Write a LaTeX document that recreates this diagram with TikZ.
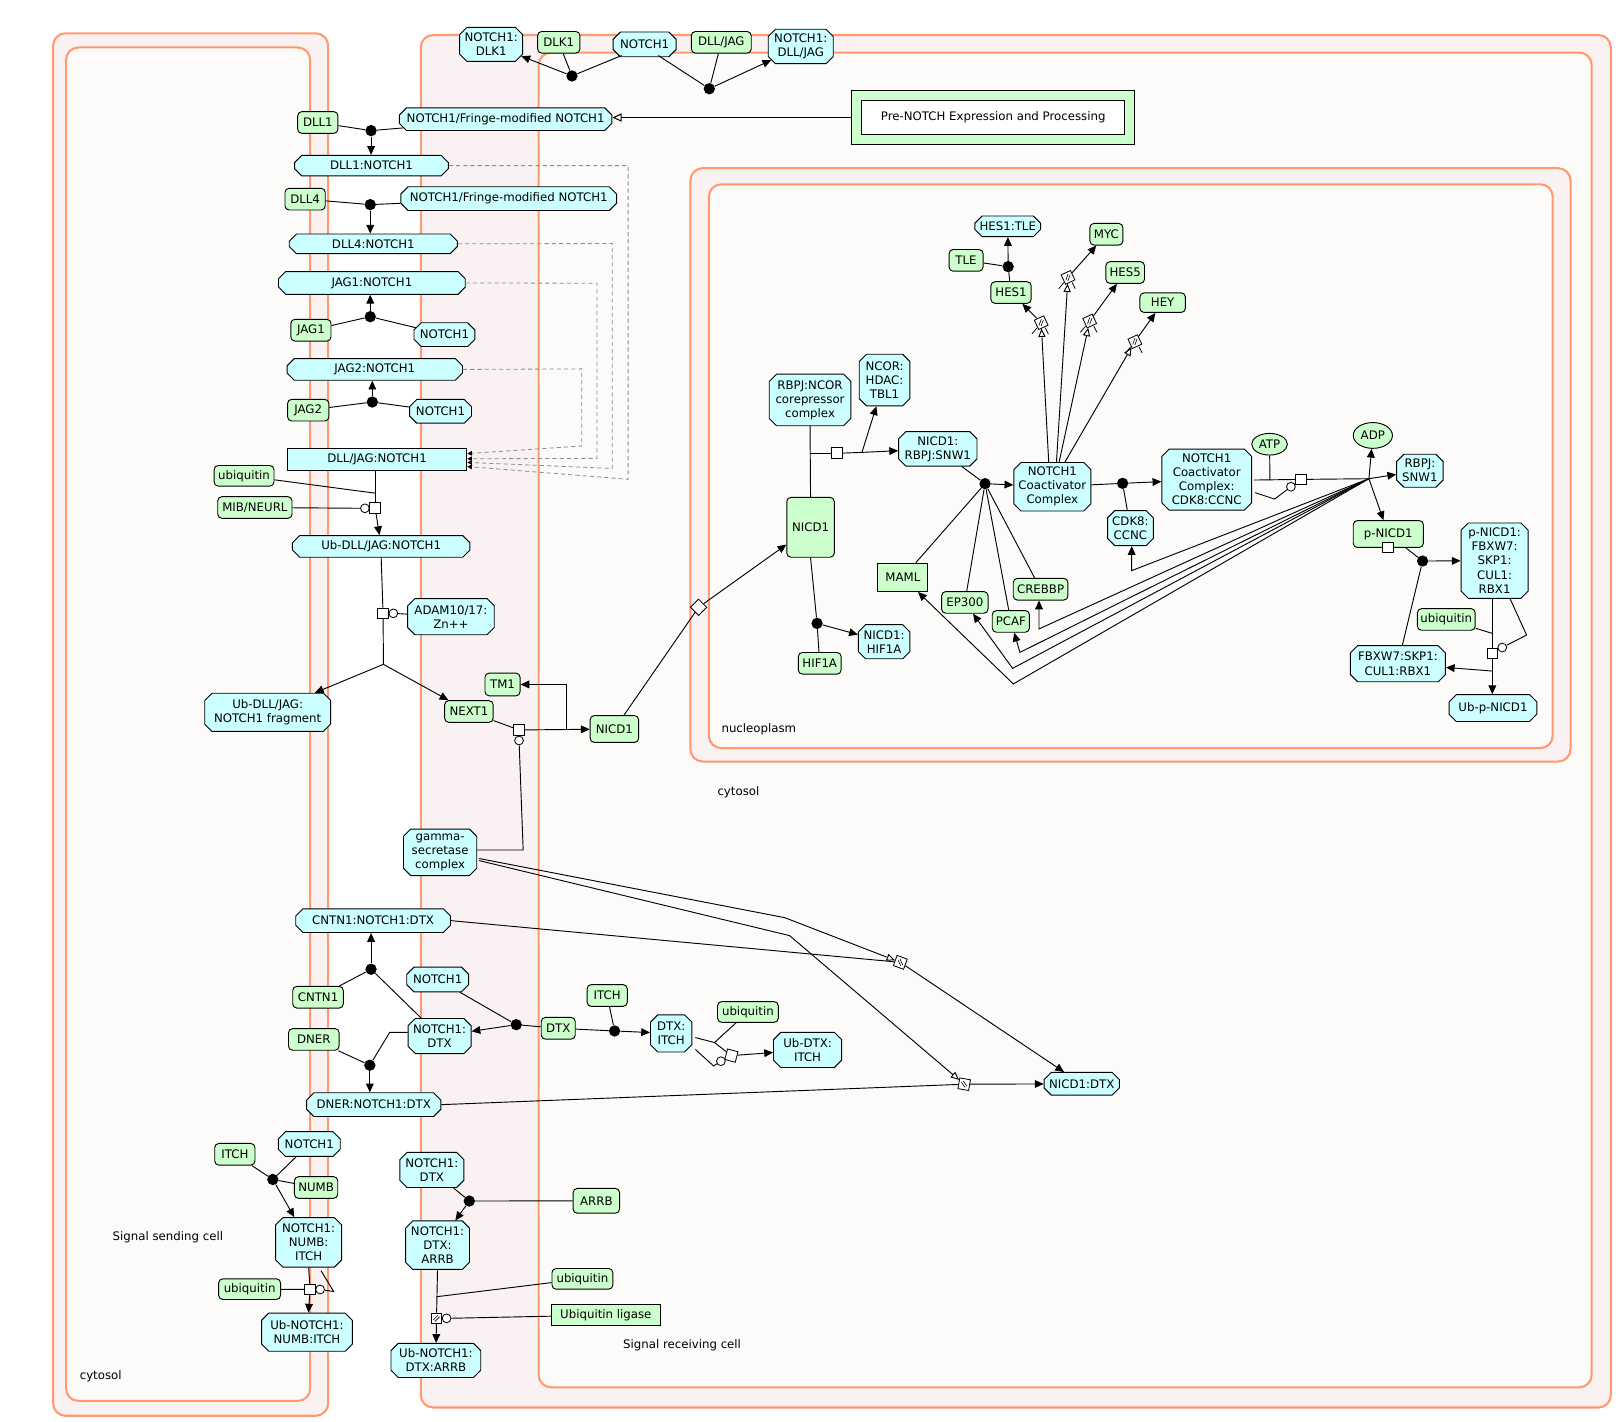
\documentclass[tikz,border=0pt]{standalone}
\usepackage{fontspec}
\setmainfont{DejaVu Sans}
\usetikzlibrary{shapes.misc,shapes.geometric,arrows.meta,calc}
\definecolor{cyanfill}{RGB}{204,255,255}
\definecolor{greenfill}{RGB}{204,255,204}
\definecolor{compline}{RGB}{255,153,110}
\definecolor{bandfill}{RGB}{250,242,242}
\definecolor{innerfill}{RGB}{253,251,250}
\definecolor{dashgray}{RGB}{140,140,140}
\newcommand\dfont{\fontsize{11.4}{13.6}\selectfont}
\begin{document}
\begin{tikzpicture}[x=1pt,y=-1pt,
  every node/.style={font=\dfont},
  base/.style={draw=black,line width=0.9pt,align=center,inner sep=1pt},
  cx/.style={base,chamfered rectangle,chamfered rectangle xsep=3.5pt,chamfered rectangle ysep=3.5pt,fill=cyanfill},
  cxr/.style={base,rectangle,fill=cyanfill},
  pr/.style={base,rectangle,rounded corners=4pt,fill=greenfill},
  prr/.style={base,rectangle,fill=greenfill},
  mol/.style={base,ellipse,fill=greenfill,inner sep=0pt},
  sz/.style 2 args={minimum width=#1pt,minimum height=#2pt},
  dot/.style={circle,fill=black,draw=none,inner sep=0pt,minimum size=11pt},
  tsq/.style={rectangle,draw=black,fill=white,line width=0.8pt,inner sep=0pt,minimum size=10.5pt},
  ocirc/.style={circle,draw=black,fill=white,line width=0.8pt,inner sep=0pt,minimum size=8.5pt},
  ln/.style={line width=0.9pt},
  arr/.style={ln,-{Triangle[length=8.5pt,width=7.5pt]}},
  oarr/.style={ln,-{Triangle[open,length=8pt,width=7pt]}},
  comp/.style={draw=compline,line width=2pt,rounded corners=12pt},
  dsh/.style={draw=dashgray,line width=0.8pt,dash pattern=on 4pt off 3pt,-{Triangle[length=4.5pt,width=4.5pt,color=black]}},
  fwd/.style={path picture={
    \draw[line width=0.6pt] ([xshift=-3pt,yshift=-1.5pt]path picture bounding box.center) -- ([xshift=1.5pt,yshift=3pt]path picture bounding box.center);
    \draw[line width=0.6pt] ([xshift=-1.5pt,yshift=-3pt]path picture bounding box.center) -- ([xshift=3pt,yshift=1.5pt]path picture bounding box.center);}},
  bwd/.style={path picture={
    \draw[line width=0.6pt] ([xshift=-3pt,yshift=1.5pt]path picture bounding box.center) -- ([xshift=1.5pt,yshift=-3pt]path picture bounding box.center);
    \draw[line width=0.6pt] ([xshift=-1.5pt,yshift=3pt]path picture bounding box.center) -- ([xshift=3pt,yshift=-1.5pt]path picture bounding box.center);}},
]
\useasboundingbox[fill=white] (0,0) rectangle (1568,1378);

% ---------------- compartments ----------------
\draw[comp,fill=bandfill] (51.5,32.3) rectangle (318,1372);
\draw[comp,fill=innerfill] (64,46) rectangle (300.6,1357.6);
\draw[comp,fill=bandfill] (407.8,33.9) rectangle (1561,1364);
\draw[comp,fill=innerfill] (522,51) rectangle (1542.5,1344.4);
\draw[comp,fill=bandfill] (669,163) rectangle (1522,738);
\draw[comp,fill=innerfill] (687,178.6) rectangle (1504.7,725);

\node (lblSend) at (162.7,1199) {Signal sending cell};
\node (lblCytS) at (97.6,1334) {cytosol};
\node (lblCytR) at (715.6,767.8) {cytosol};
\node (lblNuc) at (735.4,706.5) {nucleoplasm};
\node (lblRecv) at (661,1304) {Signal receiving cell};

% ---------------- top: DLK1 / DLL-JAG binding ----------------
\node[cx,sz={61}{33}] (nDLK1c) at (476,43) {NOTCH1:\\DLK1};
\node[pr,sz={41}{21}] (nDLK1) at (541.5,41) {DLK1};
\node[cx,sz={61}{24}] (nN1top) at (624.7,43) {NOTCH1};
\node[pr,sz={58}{21}] (nDLLJAG) at (699,41) {DLL/JAG};
\node[cx,sz={63}{33}] (nN1DJ) at (776,45) {NOTCH1:\\DLL/JAG};
\node[dot] (d1) at (554.3,73.6) {};
\node[dot] (d2) at (687.4,86) {};

\node[prr,sz={274}{52}] (pre) at (962.6,113.9) {};
\node[base,fill=white,sz={255}{33}] (preIn) at (962.5,113.7) {Pre-NOTCH Expression and Processing};

% ---------------- ligand binding column ----------------
\node[cx,sz={206}{22}] (nFr1) at (490,115.5) {NOTCH1/Fringe-modified NOTCH1};
\node[pr,sz={39}{21}] (nDLL1) at (308,118.7) {DLL1};
\node[dot] (d3) at (359.6,126.6) {};
\node[cx,sz={149}{20}] (nDLL1N) at (360,160.5) {DLL1:NOTCH1};
\node[pr,sz={39}{21}] (nDLL4) at (295.7,193) {DLL4};
\node[cx,sz={209}{23}] (nFr2) at (493,192.5) {NOTCH1/Fringe-modified NOTCH1};
\node[dot] (d4) at (358.8,198.3) {};
\node[cx,sz={163}{19}] (nDLL4N) at (361.8,236.3) {DLL4:NOTCH1};
\node[cx,sz={181}{22}] (nJAG1N) at (360.4,274.2) {JAG1:NOTCH1};
\node[dot] (d5) at (358.8,306.9) {};
\node[pr,sz={39}{21}] (nJAG1) at (301.3,320) {JAG1};
\node[cx,sz={59}{23}] (nN1j1) at (430.7,324.3) {NOTCH1};
\node[cx,sz={170}{21}] (nJAG2N) at (363.2,358) {JAG2:NOTCH1};
\node[dot] (d6) at (360.8,389.6) {};
\node[pr,sz={40}{21}] (nJAG2) at (298.7,397.5) {JAG2};
\node[cx,sz={60}{23}] (nN1j2) at (426.9,398.6) {NOTCH1};
\node[cxr,sz={174}{21}] (nDJN) at (365.4,445.1) {DLL/JAG:NOTCH1};
\node[pr,sz={58}{20}] (nUbq1) at (236.5,461.1) {ubiquitin};
\node[pr,sz={72}{21}] (nMIB) at (247,491.8) {MIB/NEURL};
\node[tsq] (t1) at (363.6,492.6) {};
\node[ocirc] (c1) at (353.6,492.6) {};
\coordinate (j1) at (364.2,478);
\node[cx,sz={172}{21}] (nUbDJN) at (369.4,529.5) {Ub-DLL/JAG:NOTCH1};
\node[tsq] (t2) at (371.2,594.4) {};
\node[ocirc] (c2) at (381.2,594.4) {};
\node[cx,sz={84}{35}] (nADAM) at (437,597.6) {ADAM10/17:\\Zn++};
\coordinate (j2) at (371.6,643.8);
\node[cx,sz={122}{37}] (nUbFrag) at (259.4,690.3) {Ub-DLL/JAG:\\NOTCH1 fragment};
\node[pr,sz={34}{22}] (nTM1) at (487,663.3) {TM1};
\node[pr,sz={47}{21}] (nNEXT1) at (454.4,689.5) {NEXT1};
\node[pr,sz={47}{26}] (nNICD1c) at (595.4,706.5) {NICD1};
\node[tsq] (t3) at (503,707.4) {};
\node[ocirc] (c3) at (503,717.6) {};
\coordinate (j3) at (548.8,707.2);
\coordinate (j4) at (507,823.7);
\node[cx,sz={71}{45}] (nGamma) at (426.5,826) {gamma-\\secretase\\complex};

% ---------------- DTX / CNTN1 / DNER ----------------
\node[cx,sz={150}{23}] (nCNTN1N) at (361.6,892.2) {CNTN1:NOTCH1:DTX};
\node[dot] (d7) at (359.6,939.3) {};
\node[pr,sz={49}{21}] (nCNTN1) at (308.2,966.4) {CNTN1};
\node[cx,sz={60}{24}] (nN1d) at (424.2,949.2) {NOTCH1};
\node[cx,sz={61}{34}] (nN1DTX) at (426,1004) {NOTCH1:\\DTX};
\node[pr,sz={33}{21}] (nDTX) at (541,996.5) {DTX};
\node[dot] (d8) at (500.3,993) {};
\node[pr,sz={39}{21}] (nITCH1) at (588.4,964.7) {ITCH};
\node[dot] (d9) at (595.6,999.1) {};
\node[cx,sz={40}{36}] (nDTXITCH) at (650.4,1001.5) {DTX:\\ITCH};
\node[pr,sz={59}{20}] (nUbq2) at (724.8,980.7) {ubiquitin};
\node[tsq,rotate=-15] (t4) at (708.8,1023) {};
\node[ocirc] (c4) at (698.6,1028.4) {};
\coordinate (j5) at (692.4,1010.3);
\coordinate (j5b) at (691.5,1033);
\node[cx,sz={66}{34}] (nUbDTX) at (782.6,1017.5) {Ub-DTX:\\ITCH};
\node[pr,sz={49}{21}] (nDNER) at (304.1,1007.3) {DNER};
\node[dot] (d10) at (358.4,1032.3) {};
\coordinate (j6) at (377.7,1000.4);
\node[cx,sz={130}{23}] (nDNERN) at (362.2,1070.5) {DNER:NOTCH1:DTX};
\node[tsq,rotate=-20,bwd] (t5) at (872.5,932.6) {};
\node[tsq,rotate=-10,bwd] (t6) at (934.4,1050.7) {};
\coordinate (b1) at (760.5,889.3);
\coordinate (b2) at (765.2,906.7);
\node[cx,sz={73}{22}] (nNICD1DTX) at (1048.3,1050.3) {NICD1:DTX};

% ---------------- NUMB / ITCH ----------------
\node[cx,sz={60}{24}] (nN1b) at (299.7,1108.7) {NOTCH1};
\node[pr,sz={39}{21}] (nITCH2) at (227.6,1118.6) {ITCH};
\node[dot] (d11) at (264.4,1143) {};
\node[pr,sz={42}{21}] (nNUMB) at (306.3,1150.8) {NUMB};
\node[cx,sz={64}{48}] (nNNI) at (299.1,1204) {NOTCH1:\\NUMB:\\ITCH};
\node[pr,sz={60}{20}] (nUbq3) at (241.9,1249.3) {ubiquitin};
\node[tsq] (t7) at (300.5,1249.6) {};
\node[ocirc] (c7) at (310.2,1249.6) {};
\coordinate (j7) at (323.4,1251.6);
\node[cx,sz={88}{37}] (nUbNNI) at (297.5,1291) {Ub-NOTCH1:\\NUMB:ITCH};

% ---------------- ARRB ----------------
\node[cx,sz={62}{34}] (nN1DTXb) at (418.5,1133.8) {NOTCH1:\\DTX};
\node[dot] (d12) at (454.8,1163.9) {};
\node[pr,sz={45}{24}] (nARRB) at (577.9,1163.7) {ARRB};
\node[cx,sz={62}{47}] (nNDA) at (424,1206.7) {NOTCH1:\\DTX:\\ARRB};
\node[pr,sz={59}{20}] (nUbq4) at (564.4,1239.3) {ubiquitin};
\node[prr,sz={105}{21}] (nUbLig) at (587.1,1274.4) {Ubiquitin ligase};
\node[tsq,fwd] (t8) at (423,1277.6) {};
\node[ocirc] (c8) at (432.8,1277.6) {};
\coordinate (j8) at (423.4,1256.6);
\node[cx,sz={87}{33}] (nUbNDA) at (422.4,1318.4) {Ub-NOTCH1:\\DTX:ARRB};

% ---------------- nucleus ----------------
\node[diamond,draw=black,fill=white,line width=0.8pt,inner sep=0pt,minimum size=16pt] (dia) at (677,588.5) {};
\node[pr,sz={46}{58}] (nNICD1n) at (785.5,511) {NICD1};
\node[cx,sz={79}{50}] (nRBPJNCOR) at (785,387.6) {RBPJ:NCOR\\corepressor\\complex};
\node[cx,sz={49}{50}] (nNCOR) at (857.2,368.3) {NCOR:\\HDAC:\\TBL1};
\coordinate (j9) at (785,439.3);
\node[tsq] (t9) at (811.2,439.3) {};
\coordinate (j9b) at (835.3,438.4);
\node[cx,sz={76}{30}] (nNRS) at (908.8,435) {NICD1:\\RBPJ:SNW1};
\node[dot] (d13) at (791.8,604.1) {};
\node[pr,sz={41.5}{21}] (nHIF1A) at (794.4,642.8) {HIF1A};
\node[cx,sz={50}{33}] (nNH) at (856.8,621.9) {NICD1:\\HIF1A};
\node[dot] (d14) at (954.6,468.7) {};
\node[cx,sz={71}{47}] (nNCC) at (1019.8,471.7) {NOTCH1\\Coactivator\\Complex};
\node[prr,sz={48.5}{27.4}] (nMAML) at (875,559.6) {MAML};
\node[pr,sz={45}{21}] (nEP300) at (935,583.8) {EP300};
\node[pr,sz={36}{21}] (nPCAF) at (979.6,602.2) {PCAF};
\node[pr,sz={53}{21}] (nCREBBP) at (1008.4,571) {CREBBP};
\node[dot] (d15) at (1087.9,468.4) {};
\node[cx,sz={44}{34}] (nCDK8) at (1095.5,511.8) {CDK8:\\CCNC};
\node[cx,sz={87}{59}] (nNCCC) at (1169.4,464.8) {NOTCH1\\Coactivator\\Complex:\\CDK8:CCNC};
\node[mol,sz={34.5}{21}] (nATP) at (1230.3,430.5) {ATP};
\coordinate (j10) at (1230.7,465.2);
\node[tsq] (t10) at (1260.4,464.6) {};
\node[ocirc] (c10) at (1251,471.7) {};
\coordinate (j10b) at (1235.2,483.7);
\coordinate (hub) at (1326.6,463.9);
\node[mol,sz={38}{25}] (nADP) at (1330.4,422) {ADP};
\node[cx,sz={45}{32}] (nRS) at (1376,456.2) {RBPJ:\\SNW1};
\node[pr,sz={68}{26}] (nPN) at (1345.4,517.5) {p-NICD1};
\node[tsq] (t11) at (1345.4,530.5) {};
\node[dot] (d16) at (1378.6,543.7) {};
\node[cx,sz={65}{73}] (nPNF) at (1448.4,543.3) {p-NICD1:\\FBXW7:\\SKP1:\\CUL1:\\RBX1};
\node[pr,sz={56}{21}] (nUbq5) at (1401.6,600.3) {ubiquitin};
\node[tsq] (t12) at (1446.2,633.2) {};
\node[ocirc] (c12) at (1455.8,627.5) {};
\coordinate (j12a) at (1446.2,613.8);
\coordinate (j12b) at (1479.4,615.4);
\coordinate (j12c) at (1446.2,650.3);
\node[cx,sz={92}{35}] (nFSCR) at (1354.7,643.2) {FBXW7:SKP1:\\CUL1:RBX1};
\node[cx,sz={85}{26}] (nUbPN) at (1446.8,686.2) {Ub-p-NICD1};
\coordinate (f1) at (1096.7,553);
\coordinate (f2) at (1006.9,609.5);
\coordinate (f3) at (988.4,632.2);
\coordinate (f4) at (981.3,647.7);
\coordinate (f5) at (982,662.8);

% target genes
\node[cx,sz={61}{20}] (nHES1TLE) at (976.6,219.3) {HES1:TLE};
\node[pr,sz={33}{21}] (nTLE) at (936.2,252.3) {TLE};
\node[dot] (d17) at (977,258.4) {};
\node[pr,sz={39}{21}] (nHES1) at (979.8,283.5) {HES1};
\node[pr,sz={32}{21}] (nMYC) at (1072.2,227) {MYC};
\node[pr,sz={37.5}{21}] (nHES5) at (1090.4,264.1) {HES5};
\node[pr,sz={44}{19}] (nHEY) at (1126.7,293.3) {HEY};
\node[tsq,rotate=25,fwd,minimum size=10pt] (g1) at (1009,312.7) {};
\node[tsq,rotate=25,fwd,minimum size=10pt] (g2) at (1035,268.8) {};
\node[tsq,rotate=25,fwd,minimum size=10pt] (g3) at (1056,311.1) {};
\node[tsq,rotate=25,fwd,minimum size=10pt] (g4) at (1099.8,331.1) {};

% ---------------- connectors ----------------
% DLK1 and DLL/JAG binding at the top
\draw[ln] (nDLK1) -- (d1);
\draw[ln] ($(nN1top.south west)+(5,2)$) -- (d1);
\draw[arr] (d1) -- (nDLK1c);
\draw[ln] ($(nN1top.south east)+(-14,2)$) -- (d2);
\draw[ln] (nDLLJAG) -- (d2);
\draw[arr] (d2) -- (nN1DJ);
\draw[line width=1.8pt,-{Triangle[open,length=9pt,width=8pt,line width=1pt]}] (pre.west) -- (pre.west -| nFr1.east);

% ligand binding
\draw[ln] (nDLL1) -- (d3);
\draw[ln] (nFr1) -- (d3);
\draw[arr] (d3) -- (d3 |- nDLL1N.north);
\draw[ln] (nDLL4) -- (d4);
\draw[ln] (nFr2) -- (d4);
\draw[arr] (d4) -- (d4 |- nDLL4N.north);
\draw[ln] (nJAG1) -- (d5);
\draw[ln] (nN1j1) -- (d5);
\draw[arr] (d5) -- (d5 |- nJAG1N.south);
\draw[ln] (nJAG2) -- (d6);
\draw[ln] (nN1j2) -- (d6);
\draw[arr] (d6) -- (d6 |- nJAG2N.south);

% complexes collapse into DLL/JAG:NOTCH1
\draw[dsh] (nDLL1N.east) -- (608.7,160.5) -- (608.7,464.5) -- ($(nDJN.east)+(0,7)$);
\draw[dsh] (nDLL4N.east) -- (593.4,236) -- (593.4,454) -- ($(nDJN.east)+(0,3)$);
\draw[dsh] (nJAG1N.east) -- (578.5,274.5) -- (578.5,444.2) -- ($(nDJN.east)+(0,-0.5)$);
\draw[dsh] (nJAG2N.east) -- (563.7,357.5) -- (563.7,432.2) -- ($(nDJN.east)+(0,-5.5)$);

% ubiquitination and cleavage
\draw[ln] (nDJN.south -| t1) -- (t1);
\draw[ln] (nUbq1) -- (j1);
\draw[ln] (nMIB) -- (c1);
\draw[arr] (t1) -- (nUbDJN);
\draw[ln] (nUbDJN.south) -- (t2);
\draw[ln] (c2) -- (nADAM);
\draw[ln] (t2) -- (j2);
\draw[arr] (j2) -- (nUbFrag);
\draw[arr] (j2) -- (nNEXT1);
\draw[ln] (nNEXT1) -- (t3);
\draw[arr] (t3) -- (nNICD1c);
\draw[arr] (j3) |- (nTM1.east);
\draw[ln] (c3) -- (j4) -- (j4 -| nGamma.east);
\draw[oarr] ($(nGamma.east)+(2,6)$) -- (b1) -- (t5);
\draw[oarr] ($(nGamma.east)+(2,8)$) -- (b2) -- (t6);

% DTX branch
\draw[ln] (nCNTN1) -- (d7);
\draw[ln] (d7) -- (nN1DTX);
\draw[arr] (d7) -- (d7 |- nCNTN1N.south);
\draw[ln] (nN1d) -- (d8);
\draw[ln] (nDTX) -- (d8);
\draw[arr] (d8) -- (nN1DTX);
\draw[ln] (nITCH1) -- (d9);
\draw[ln] (nDTX) -- (d9);
\draw[arr] (d9) -- (nDTXITCH);
\draw[ln] ($(nDTXITCH.east)+(3,4)$) -- (j5) -- (t4);
\draw[ln] (nUbq2) -- (j5);
\draw[ln] ($(nDTXITCH.east)+(3,15.5)$) -- (j5b) -- (c4);
\draw[arr] (t4) -- (nUbDTX);
\draw[ln] (nDNER) -- (d10);
\draw[ln] (nN1DTX.west |- j6) -- (j6) -- (d10);
\draw[arr] (d10) -- (d10 |- nDNERN.north);
\draw[ln] (nCNTN1N.east) -- (t5);
\draw[arr] (t5) -- (nNICD1DTX);
\draw[ln] (nDNERN.east) -- (t6);
\draw[arr] (t6) -- (nNICD1DTX);

% NUMB branch
\draw[ln] (nITCH2) -- (d11);
\draw[ln] (nN1b) -- (d11);
\draw[ln] (nNUMB) -- (d11);
\draw[arr] (d11) -- (nNNI);
\draw[ln] (nNNI.south) -- (t7);
\draw[ln] (nUbq3) -- (t7);
\draw[ln] ($(nNNI.south)+(12,3)$) -- (j7) -- (c7);
\draw[arr] (t7) -- (nUbNNI);

% ARRB branch
\draw[ln] (nN1DTXb) -- (d12);
\draw[ln] (nARRB) -- (d12);
\draw[arr] (d12) -- (nNDA);
\draw[ln] (nNDA.south) -- (t8);
\draw[ln] (nUbq4) -- (j8);
\draw[ln] (c8) -- (nUbLig);
\draw[arr] (t8) -- (nUbNDA);

% nuclear import and transcription complex
\draw[ln] (nNICD1c) -- (dia);
\draw[arr] (dia) -- (nNICD1n);
\draw[ln] (nRBPJNCOR.south) -- (nNICD1n.north);
\draw[ln] (j9) -- (t9);
\draw[ln] (t9) -- (j9b);
\draw[arr] (j9b) -- (nNRS);
\draw[arr] (j9b) -- (nNCOR);
\draw[ln] (nNICD1n.south) -- (d13);
\draw[ln] (nHIF1A) -- (d13);
\draw[arr] (d13) -- (nNH);
\draw[ln] (nNRS) -- (d14);
\draw[ln] (nMAML) -- (d14);
\draw[ln] (nEP300) -- (d14);
\draw[ln] (nPCAF) -- (d14);
\draw[ln] (nCREBBP) -- (d14);
\draw[arr] (d14) -- (nNCC);
\draw[ln] (nNCC) -- (d15);
\draw[ln] (nCDK8) -- (d15);
\draw[arr] (d15) -- (nNCCC);
\draw[ln] ($(nNCCC.east)+(2,0.4)$) -- (t10);
\draw[ln] (nATP) -- (j10);
\draw[ln] ($(nNCCC.east)+(3,12.6)$) -- (j10b) -- (c10);
\draw[ln] (t10) -- (hub);
\draw[arr] (hub) -- (nADP);
\draw[arr] (hub) -- (nRS);
\draw[arr] (hub) -- (nPN);
\draw[arr] (hub) -- (f1) -- (f1 |- nCDK8.south);
\draw[arr] (hub) -- (f2) -- (f2 |- nCREBBP.south);
\draw[arr] (hub) -- (f3) -- (nPCAF);
\draw[arr] (hub) -- (f4) -- (nEP300);
\draw[arr] (hub) -- (f5) -- (nMAML);

% p-NICD1 degradation
\draw[ln] (nPN) -- (d16);
\draw[ln] (nFSCR) -- (d16);
\draw[arr] (d16) -- (nPNF);
\draw[ln] (nPNF.south -| t12) -- (t12);
\draw[ln] (nUbq5) -- (j12a);
\draw[ln] ($(nPNF.south)+(15,0)$) -- (j12b) -- (c12);
\draw[ln] (t12) -- (j12c);
\draw[arr] (j12c) -- (nFSCR);
\draw[arr] (j12c) -- (j12c |- nUbPN.north);

% target gene expression
\draw[ln] (nTLE) -- (d17);
\draw[ln] (nHES1) -- (d17);
\draw[arr] (d17) -- (nHES1TLE);
\draw[oarr] ($(nNCC.north)+(-3.5,0)$) -- (g1);
\draw[oarr] ($(nNCC.north)+(4,0)$) -- (g2);
\draw[oarr] ($(nNCC.north)+(6.6,0)$) -- (g3);
\draw[oarr] ($(nNCC.north)+(12.2,0)$) -- (g4);
\draw[arr] (g1) -- (nHES1);
\draw[arr] (g2) -- (nMYC);
\draw[arr] (g3) -- (nHES5);
\draw[arr] (g4) -- (nHEY);
\foreach \g in {g1,g2,g3,g4}{
  \draw[line width=0.7pt] ($(\g)+(-4,5)$) -- ($(\g)+(-9,11)$);
  \draw[line width=0.7pt] ($(\g)+(4,5)$) -- ($(\g)+(7,11)$);
}
\end{tikzpicture}
\end{document}
